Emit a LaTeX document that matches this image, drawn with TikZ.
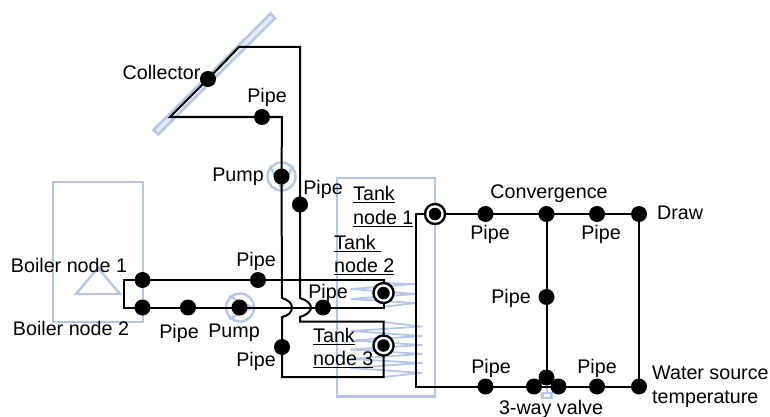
\documentclass[tikz,border=0pt]{standalone}
\usepackage{fontspec}
\setmainfont{Liberation Sans}
\definecolor{pale}{HTML}{B4C7E7}
\definecolor{palefill}{HTML}{E4EBF7}
\tikzset{
  blueline/.style={draw=pale,line width=2.4pt,line join=miter},
  coil/.style={draw=pale,line width=1.8pt,line join=round},
  wire/.style={draw=black,line width=2pt,line join=miter},
  dot/.style={circle,fill=black,draw=none,minimum size=16pt,inner sep=0pt},
  ringout/.style={circle,fill=black,draw=none,minimum size=22.5pt,inner sep=0pt},
  ringin/.style={circle,fill=white,draw=none,minimum size=17.5pt,inner sep=0pt},
  ringdot/.style={circle,fill=black,draw=none,minimum size=12.5pt,inner sep=0pt},
  lab/.style={font=\fontsize{19.7}{23}\selectfont,inner sep=0pt,text depth=0pt},
  lableft/.style={lab,anchor=west},
}
\begin{document}
\begin{tikzpicture}[x=1pt,y=-1pt]
\useasboundingbox (0,0) rectangle (770,417);
% pale shapes
\draw[blueline] (53,182) rectangle (143,322);
\draw[blueline] (76,294) -- (120,294) -- (98,268) -- cycle;
\draw[blueline,fill=palefill] (270.7,13.4) -- (275,18.3) -- (158.3,134.3) -- (153.4,130) -- cycle;
\draw[blueline] (337,178) rectangle (435,396.5);
\draw[blueline] (240,307.5) circle (14);
\draw[blueline] (229,296) -- (252,307.5) -- (229,319);
\draw[blueline] (281.5,176.5) circle (14);
\draw[blueline] (270,166) -- (281.5,188) -- (293,166);
\draw[coil] (383,283) -- (415,284) -- (351,289) -- (415,294) -- (351,299) -- (415,303) -- (383,307);
\draw[coil] (383,322) -- (422,326.5) -- (351,331) -- (422,336) -- (351,340.5) -- (422,345) -- (351,349.5) -- (422,354) -- (351,359) -- (422,363) -- (351,368) -- (422,373) -- (383,377);
\draw[blueline] (547,386) -- (547,393);
\draw[blueline] (542.5,393) rectangle (551.5,398);
% nodes
\node[dot] (b1) at (142.5,280) {};
\node[dot] (b2) at (142.5,307.5) {};
\node[dot] (p1) at (188,307.5) {};
\node[dot] (pu1) at (239.5,307.5) {};
\node[dot] (p2) at (258,280) {};
\node[dot] (p3) at (323,307.5) {};
\node[dot] (coll) at (208,79) {};
\node[dot] (p4) at (262,117) {};
\node[dot] (pu2) at (281.5,176.5) {};
\node[dot] (p5) at (300,204.5) {};
\node[dot] (p6) at (282,347) {};
\node[dot] (c0) at (485.5,214) {};
\node[dot] (conv) at (546.5,214) {};
\node[dot] (c1) at (597,214) {};
\node[dot] (draw) at (639,214) {};
\node[dot] (p7) at (546.5,297) {};
\node[dot] (v0) at (485.5,386.5) {};
\node[dot] (v1) at (534,386.5) {};
\node[dot] (v2) at (558.5,386.5) {};
\node[dot] (v3) at (546.5,377.5) {};
\node[dot] (v4) at (597,386.5) {};
\node[dot] (src) at (639,386.5) {};
\coordinate (bl1) at (123.5,280);
\coordinate (bl2) at (123.5,307.5);
\coordinate (t2a) at (383.5,280);
\coordinate (t2b) at (383.5,307.5);
\coordinate (t3a) at (383.5,321.5);
\coordinate (t3b) at (383.5,377);
\coordinate (cTop) at (300,47);
\coordinate (cHi) at (239,47);
\coordinate (cLo) at (170,117);
\coordinate (cRt) at (282,117);
\coordinate (j1a) at (282,298);
\coordinate (j1b) at (282,317);
\coordinate (j2a) at (300,298);
\coordinate (j2b) at (300,317);
\coordinate (j2c) at (300,321.5);
\coordinate (lowL) at (282,377);
\coordinate (t1L) at (416,214);
\coordinate (t1B) at (416,386.5);
% wires
\draw[wire] (bl1) -- (b1.center) -- (p2.center) -- (t2a) -- (t2b) -- (p3.center) -- (pu1.center) -- (p1.center) -- (b2.center) -- (bl2) -- cycle;
\draw[wire] (coll.center) -- (cHi) -- (cTop) -- (p5.center) -- (j2a) .. controls (307,300) and (311,304) .. (311,307.5) .. controls (311,311) and (307,315) .. (j2b) -- (j2c) -- (t3a) -- (t3b) -- (lowL) -- (p6.center) -- (j1b) .. controls (288,316) and (292,312) .. (292,307.5) .. controls (292,303) and (288,300) .. (j1a) -- (pu2.center) -- (cRt) -- (p4.center) -- (cLo) -- (coll.center);
% tank dots
\node[ringout] (t1o) at (435,214) {};
\node[ringin] at (435,214) {};
\node[ringdot] (t1) at (435,214) {};
\node[ringout] (t2o) at (383.5,293) {};
\node[ringin] at (383.5,293) {};
\node[ringdot] (t2) at (383.5,293) {};
\node[ringout] (t3o) at (383.5,345.5) {};
\node[ringin] at (383.5,345.5) {};
\node[ringdot] (t3) at (383.5,345.5) {};
\draw[wire] (t1o) -- (t1L) -- (t1B) -- (v0.center) -- (v1.center);
\draw[wire] (t1o) -- (c0.center) -- (conv.center) -- (c1.center) -- (draw.center) -- (src.center) -- (v4.center) -- (v2.center);
\draw[wire] (conv.center) -- (v3.center);
\draw[wire] (v1.center) -- (v2.center);
% labels
\node[lab] at (161.5,72) {Collector};
\node[lab] at (267,95) {Pipe};
\node[lab] at (238,175) {Pump};
\node[lab] at (323,187) {Pipe};
\node[lableft] at (353,193) {\underline{Tank}};
\node[lableft] at (353,217) {\underline{node 1}};
\node[lableft] at (334,242) {\underline{Tank\ }};
\node[lableft] at (334,265) {\underline{node 2}};
\node[lableft] at (313,335) {\underline{Tank}};
\node[lableft] at (313,358) {\underline{node 3}};
\node[lab] at (69,265) {Boiler node 1};
\node[lab] at (71,328) {Boiler node 2};
\node[lab] at (179,331) {Pipe};
\node[lab] at (234,331) {Pump};
\node[lab] at (256,259) {Pipe};
\node[lab] at (328,291) {Pipe};
\node[lab] at (256,359) {Pipe};
\node[lab] at (549,192) {Convergence};
\node[lab] at (490,232) {Pipe};
\node[lab] at (601,232) {Pipe};
\node[lableft] at (657,213) {Draw};
\node[lab] at (511,296) {Pipe};
\node[lab] at (491,366) {Pipe};
\node[lab] at (597,366) {Pipe};
\node[lab] at (551,407) {3-way valve};
\node[lableft] at (652,373) {Water source};
\node[lableft] at (652,397) {temperature};
\end{tikzpicture}
\end{document}
